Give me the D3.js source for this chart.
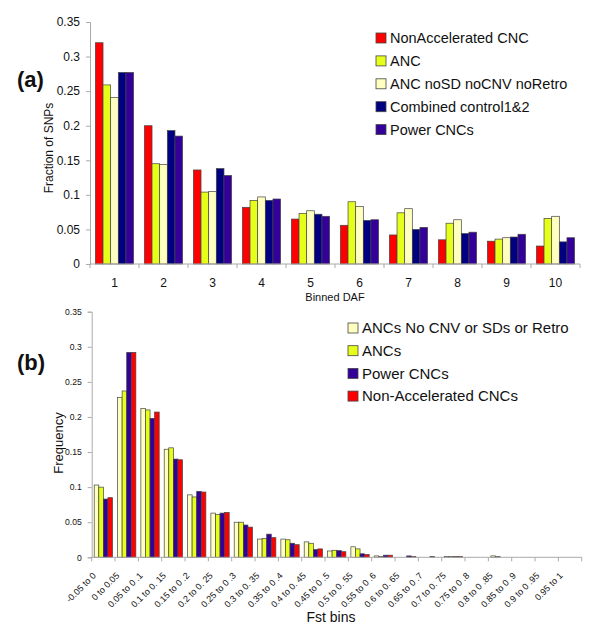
<!DOCTYPE html>
<html>
<head>
<meta charset="utf-8">
<script src="https://cdn.jsdelivr.net/npm/d3@7/dist/d3.min.js"></script>
<style>
  body { margin: 0; background: #fff; }
  svg text { font-family: "Liberation Sans", Arial, sans-serif; fill: #111; }
</style>
</head>
<body>
<div id="chart"></div>
<script>
// ---- data, panel (a) ----
const dafBins = ["1", "2", "3", "4", "5", "6", "7", "8", "9", "10"];
const dafSeries = ["NonAccelerated CNC", "ANC", "ANC noSD noCNV noRetro", "Combined control1&2", "Power CNCs"];
const dafNonAccel = [0.320, 0.200, 0.136, 0.082, 0.065, 0.056, 0.042, 0.035, 0.033, 0.026];
const dafANC      = [0.259, 0.145, 0.104, 0.092, 0.073, 0.090, 0.074, 0.059, 0.036, 0.066];
const dafANCclean = [0.241, 0.144, 0.105, 0.097, 0.077, 0.083, 0.080, 0.064, 0.038, 0.069];
const dafControl  = [0.277, 0.193, 0.138, 0.092, 0.072, 0.063, 0.050, 0.044, 0.039, 0.032];
const dafPower    = [0.277, 0.185, 0.128, 0.094, 0.069, 0.064, 0.053, 0.046, 0.043, 0.038];
const dafTicks = [0, 0.05, 0.1, 0.15, 0.2, 0.25, 0.3, 0.35];

// ---- data, panel (b) ----
const fstBins = ["-0.05 to 0", "0 to 0.05", "0.05 to 0 .1", "0.1 to 0. 15", "0.15 to 0 .2",
  "0.2 to 0. 25", "0.25 to 0 .3", "0.3 to 0. 35", "0.35 to 0 .4", "0.4 to 0. 45",
  "0.45 to 0 .5", "0.5 to 0. 55", "0.55 to 0 .6", "0.6 to 0. 65", "0.65 to 0 .7",
  "0.7 to 0. 75", "0.75 to 0 .8", "0.8 to 0 .85", "0.85 to 0 .9", "0.9 to 0 .95", "0.95 to 1"];
const fstSeries = ["ANCs No CNV or SDs or Retro", "ANCs", "Power CNCs", "Non-Accelerated CNCs"];
const fstANCclean = [0.103, 0.228, 0.212, 0.154, 0.089, 0.063, 0.050, 0.026, 0.026, 0.022, 0.009, 0.015, 0.002, 0, 0, 0.001, 0, 0.002, 0, 0, 0];
const fstANC      = [0.100, 0.237, 0.210, 0.156, 0.086, 0.061, 0.050, 0.027, 0.025, 0.020, 0.010, 0.012, 0.001, 0, 0, 0.001, 0, 0.001, 0, 0, 0];
const fstPower    = [0.083, 0.292, 0.198, 0.140, 0.094, 0.063, 0.046, 0.033, 0.020, 0.011, 0.0095, 0.005, 0.003, 0.002, 0.001, 0.001, 0, 0, 0, 0, 0];
const fstNonAccel = [0.085, 0.292, 0.207, 0.139, 0.093, 0.064, 0.043, 0.028, 0.018, 0.012, 0.008, 0.004, 0.003, 0.001, 0, 0.001, 0, 0, 0, 0, 0];
const fstTicks = [0, 0.05, 0.1, 0.15, 0.2, 0.25, 0.3, 0.35];

const colRed = "#ff0000", colYellow = "#e6ff1a", colLight = "#ffffc0",
      colNavy = "#000080", colPower = "#330099";

const svg = d3.select("#chart").append("svg")
  .attr("width", 600).attr("height", 627);

// draw one grouped bar panel
function panel(opt) {
  const g = svg.append("g");
  const x0 = d3.scaleBand().domain(opt.bins).range([opt.left, opt.right])
    .paddingInner(opt.pad).paddingOuter(opt.pad / 2);
  const x1 = d3.scaleBand().domain(d3.range(opt.values.length))
    .range([0, x0.bandwidth()]);
  const y = d3.scaleLinear().domain([0, 0.35]).range([opt.bottom, opt.top]);

  // bars
  opt.values.forEach((vals, s) => {
    g.append("g").selectAll("rect").data(vals).join("rect")
      .attr("x", (d, i) => x0(opt.bins[i]) + x1(s))
      .attr("y", d => y(d))
      .attr("width", x1.bandwidth())
      .attr("height", d => y(0) - y(d))
      .attr("fill", opt.colors[s])
      .attr("stroke", "#444")
      .attr("stroke-width", 0.7);
  });

  // y axis
  const ya = g.append("g").attr("transform", `translate(${opt.left},0)`)
    .call(d3.axisLeft(y).tickValues(opt.ticks).tickFormat(d3.format("")).tickSize(4).tickPadding(opt.yPad));
  ya.select(".domain").attr("stroke", "#aaa");
  ya.selectAll(".tick line").attr("stroke", "#aaa");
  ya.selectAll(".tick text").style("font-size", opt.yFont + "px").attr("fill", "#222");

  // x axis: baseline + separators between groups
  g.append("line").attr("x1", opt.left).attr("x2", opt.right)
    .attr("y1", y(0)).attr("y2", y(0)).attr("stroke", "#aaa");
  const step = x0.step();
  g.append("g").selectAll("line").data(d3.range(opt.bins.length + 1)).join("line")
    .attr("x1", i => opt.left + i * step).attr("x2", i => opt.left + i * step)
    .attr("y1", y(0)).attr("y2", y(0) + 4).attr("stroke", "#aaa");

  // legend
  const lg = g.append("g");
  opt.legend.forEach((name, i) => {
    const ly = opt.legY + i * opt.legStep;
    lg.append("rect").attr("x", opt.legX).attr("y", ly - 5).attr("width", 10).attr("height", 10)
      .attr("fill", opt.legColors[i]).attr("stroke", "#444").attr("stroke-width", 0.8);
    lg.append("text").attr("x", opt.legX + 14).attr("y", ly).attr("dy", "0.35em")
      .style("font-size", opt.legFont + "px").text(name);
  });
  return { g, x0, y };
}

// panel (a)
const a = panel({
  bins: dafBins, values: [dafNonAccel, dafANC, dafANCclean, dafControl, dafPower],
  colors: [colRed, colYellow, colLight, colNavy, colPower],
  left: 90, right: 580, top: 22, bottom: 264, pad: 0.22, ticks: dafTicks, yFont: 12, yPad: 6,
  legend: dafSeries, legColors: [colRed, colYellow, colLight, colNavy, colPower],
  legX: 376, legY: 38, legStep: 22.9, legFont: 14.5
});
a.g.append("g").selectAll("text").data(dafBins).join("text")
  .attr("x", d => a.x0(d) + a.x0.bandwidth() / 2).attr("y", 283).attr("dy", "0.35em")
  .attr("text-anchor", "middle").style("font-size", "12px").text(d => d);
a.g.append("text").attr("x", 335).attr("y", 297).attr("dy", "0.35em")
  .attr("text-anchor", "middle").style("font-size", "11px").text("Binned DAF");
a.g.append("text").attr("transform", "translate(49,148) rotate(-90)").attr("dy", "0.35em")
  .attr("text-anchor", "middle").style("font-size", "12px").text("Fraction of SNPs");
a.g.append("text").attr("x", 17).attr("y", 79).attr("dy", "0.35em")
  .style("font-size", "22px").style("font-weight", "bold").text("(a)");

// panel (b)
const b = panel({
  bins: fstBins, values: [fstANCclean, fstANC, fstPower, fstNonAccel],
  colors: [colLight, colYellow, colPower, colRed],
  left: 91.7, right: 581.7, top: 311.7, bottom: 557.3, pad: 0.215, ticks: fstTicks, yFont: 8.6, yPad: 6,
  legend: fstSeries, legColors: [colLight, colYellow, colPower, colRed],
  legX: 348, legY: 328, legStep: 22.7, legFont: 15
});
b.g.append("g").selectAll("text").data(fstBins).join("text")
  .attr("transform", d => `translate(${b.x0(d) + b.x0.bandwidth() / 2 - 9},574) rotate(-45)`)
  .attr("text-anchor", "end").attr("dy", "0.35em")
  .style("font-size", "9px").text(d => d);
b.g.append("text").attr("x", 331).attr("y", 617).attr("dy", "0.35em")
  .attr("text-anchor", "middle").style("font-size", "14px").text("Fst bins");
b.g.append("text").attr("transform", "translate(58,443) rotate(-90)").attr("dy", "0.35em")
  .attr("text-anchor", "middle").style("font-size", "13px").text("Frequency");
b.g.append("text").attr("x", 17).attr("y", 362).attr("dy", "0.35em")
  .style("font-size", "22px").style("font-weight", "bold").text("(b)");
</script>
</body>
</html>
